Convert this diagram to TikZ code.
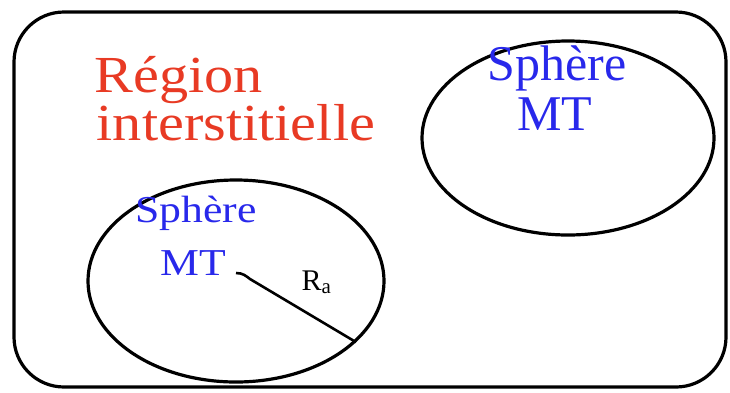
\documentclass[tikz,border=0pt]{standalone}
\usepackage{fontspec}
\setmainfont{Liberation Serif}
\usetikzlibrary{shapes.geometric}
\definecolor{regred}{RGB}{232,58,36}
\definecolor{sphblue}{RGB}{40,40,235}

\begin{document}
\begin{tikzpicture}[x=1pt, y=-1pt, line width=3.2pt,
  sphere/.style={draw, ellipse, inner sep=0pt},
  regtxt/.style={text=regred, inner sep=0pt, anchor=base west, xscale=1.12,
                 font=\fontsize{52}{56}\selectfont},
  bigtxt/.style={text=sphblue, inner sep=0pt, anchor=base, xscale=1.0,
                 font=\fontsize{50}{54}\selectfont},
  smalltxt/.style={text=sphblue, inner sep=0pt, anchor=base, xscale=1.15,
                   font=\fontsize{38}{42}\selectfont}]
\useasboundingbox (0,0) rectangle (730,392);
% cell boundary
\draw[rounded corners=50pt] (14,12) rectangle (726,387);
% interstitial region label
\node[regtxt] (reg1) at (93,92) {Région};
\node[regtxt] (reg2) at (95,140) {interstitielle};
% upper right muffin-tin sphere
\node[sphere, minimum width=292pt, minimum height=194pt] (sph2) at (568,138) {};
\node[bigtxt] (sph2a) at (557,80) {Sphère};
\node[bigtxt] (sph2b) at (555,130) {MT};
% lower left muffin-tin sphere
\node[sphere, minimum width=296pt, minimum height=202pt] (sph1) at (236,281) {};
\node[smalltxt] (sph1a) at (196,222) {Sphère};
\node[smalltxt] (sph1b) at (193,275) {MT};
% radius
\coordinate (ctr) at (236,273);
\draw[line width=2.6pt] (ctr) .. controls (243,273) and (246,276) .. (250,279) -- (sph1.-27);
\node[inner sep=0pt, anchor=base west, font=\fontsize{30}{32}\selectfont] (rad) at (300,290) {R\textsubscript{a}};
\end{tikzpicture}
\end{document}
